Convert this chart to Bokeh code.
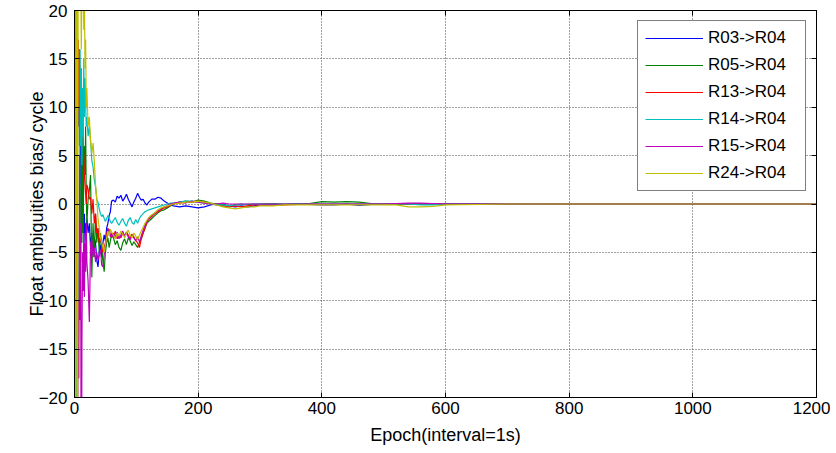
from bokeh.plotting import figure
from bokeh.models import LinearAxis, Legend, LegendItem, FixedTicker, Range1d, CustomJSTickFormatter
from bokeh.embed import file_html
from bokeh.resources import INLINE

epochs = [0,1,2,3,4,5,6,7,8,9,10,11,12,13,14,15,16,17,18,19,20,
          22,24,26,28,30,32,34,36,38,40,42,44,46,48,50,52,54,56,58,60,
          63,66,69,72,75,78,81,84,87,90,93,96,99,102,105,108,111,114,117,120,
          125,130,135,140,145,150,155,160,
          170,180,190,200,210,220,230,240,250,260,270,280,290,300,
          320,340,360,380,400,420,440,460,480,500,520,540,560,580,600,
          650,700,750,800,850,900,950,1000,1050,1100,1150,1200]

r03 = [-60,45,-30,18,10,14,8,16,6,12,2,8,-2,3,-1,-3,-1,-4,-2,-3,-1.5,
       -3,-2,-4.5,-3,-5,-3.5,-4,-5.8,-6.5,-5,-4.2,-5.5,-4,-3.2,-3.8,-2.5,-2,-1.2,-0.8,0.3,
       0.4,0.2,0.8,0.6,0.9,0.3,0.6,1.0,0.5,0.1,-0.3,0.2,0.6,1.1,0.7,0.4,0.5,0.1,-0.1,0.2,
       0.5,0.5,0.7,0.6,0.3,0.1,-0.1,-0.2,
       -0.3,-0.2,-0.3,-0.4,-0.3,-0.1,0.0,-0.1,-0.2,-0.3,-0.2,-0.3,-0.2,-0.1,
       -0.1,-0.05,0.0,-0.05,-0.1,-0.1,0.0,-0.15,-0.05,0.0,0.0,0.05,0.0,0.0,0.05,
       0.0,0.0,0.05,0.0,0.0,0.0,0.0,0.0,0.0,0.0,0.0,0.0]

r05 = [55,-50,-30,-20,-25,-10,-18,-8,-12,2,-6,5,-4,8,-3,4,6,3,8,1,-2,
       0.5,1.4,3,-7.6,-2,-5.5,-1,-4,-2.5,-5,-3,-4.5,-6,-7,-5,-4,-3.5,-4.5,-3.8,-3.2,
       -3.5,-4.2,-3.8,-4.5,-4.8,-4.0,-3.6,-4.2,-3.5,-3.8,-4.3,-3.9,-4.2,-4.5,-4.0,-3.6,-3.0,-2.5,-2.0,-1.8,
       -1.5,-1.2,-0.9,-0.7,-0.6,-0.4,-0.2,0.0,
       0.2,0.3,0.2,0.4,0.3,0.1,0.0,-0.1,-0.2,-0.1,0.0,-0.1,0.0,0.0,
       0.05,0.0,0.05,0.05,0.25,0.2,0.25,0.2,0.05,0.0,0.0,0.0,0.0,0.0,0.0,
       0.0,0.0,0.0,0.0,0.0,0.0,0.0,0.0,0.0,0.0,0.0,0.0]

r13 = [-45,-30,-35,-20,15,8,17,10,16,12,9,14,8,11,6,5,3,2,1,0,2,
       1.5,0.5,0.7,-1,0.5,-2,-1,-3,-2.5,-4,-3.5,-4.2,-5,-4.5,-4,-3.2,-2.5,-2.8,-3.4,-3.0,
       -3.4,-2.8,-3.6,-3.2,-3.5,-3.0,-3.3,-2.9,-3.2,-3.6,-3.1,-3.4,-3.8,-4.0,-4.5,-3.6,-3.0,-2.5,-1.9,-1.6,
       -1.3,-1.0,-0.8,-0.6,-0.4,-0.3,-0.1,0.0,
       0.1,0.2,0.2,0.3,0.2,0.0,-0.1,-0.2,-0.3,-0.2,-0.3,-0.2,-0.1,-0.1,
       -0.1,-0.1,-0.05,0.0,0.0,0.0,0.0,0.0,0.0,0.0,0.0,0.0,0.0,0.0,0.0,
       0.0,0.0,0.0,0.0,0.0,0.0,0.0,0.0,0.0,0.0,0.0,0.0]

r14 = [-50,40,-35,-20,-12,-8,-15,-5,-10,16,6,14,4,12,7,15,9,13,10.7,8,9,
       7,8,6.5,4.5,3.8,2.5,1.8,0.5,0.2,-0.5,-1.0,-1.3,-1.1,-1.5,-1.8,-1.5,-1.2,-1.5,-1.8,-2.0,
       -1.7,-1.4,-1.9,-2.2,-1.8,-1.5,-2.0,-2.3,-1.7,-1.4,-1.9,-2.1,-1.6,-2.0,-1.5,-1.2,-1.0,-0.8,-0.7,-0.6,
       -0.5,-0.4,-0.3,-0.2,-0.1,0.0,0.1,0.1,
       0.2,0.3,0.3,0.2,0.1,0.0,-0.1,-0.1,-0.2,-0.1,-0.1,0.0,0.0,0.0,
       0.0,0.0,0.0,0.0,0.0,0.0,0.0,0.0,0.0,0.0,0.0,0.0,-0.1,-0.1,0.0,
       0.0,0.0,0.0,0.0,0.0,0.0,0.0,0.0,0.0,0.0,0.0,0.0]

r15 = [-40,-35,-25,-30,-20,-25,-10,-18,5,-12,-2,-40,-14.3,-5,-9,-3,-9.6,-4,-7,-2,-6,
       -8,-12.2,-4,-3.7,-5.5,-4.5,-6,-5,-5.8,-5.2,-4.7,-6.3,-6.5,-5.2,-4.3,-3.6,-3.0,-2.6,-3.2,-3.5,
       -3.0,-3.4,-2.9,-3.6,-3.2,-2.8,-3.3,-3.0,-3.4,-3.7,-3.2,-3.5,-3.8,-3.4,-3.9,-3.3,-2.7,-2.2,-1.8,-1.5,
       -1.2,-0.9,-0.7,-0.5,-0.3,-0.2,0.0,0.1,
       0.2,0.1,0.3,0.2,0.1,0.0,0.0,0.1,0.0,0.0,0.0,0.0,0.0,0.0,
       0.0,0.0,0.0,0.0,0.0,0.0,0.0,0.0,0.0,0.0,0.05,0.1,0.1,0.05,0.0,
       0.0,0.0,0.0,0.0,0.0,0.0,0.0,0.0,0.0,0.0,0.0,0.0]

r24 = [60,-55,-40,45,30,-40,35,25,30,20,25,16,22,20,25,18,22,14,17,10,12,
       8,9,6.5,5.2,6.3,4.5,2.0,0.5,-1.5,-2.5,-3.5,-4.0,-4.5,-5.0,-4.2,-3.5,-2.8,-3.3,-2.6,-2.9,
       -3.2,-3.6,-3.0,-3.3,-2.8,-3.1,-3.5,-3.0,-2.7,-3.2,-3.5,-3.0,-3.3,-3.7,-3.2,-2.8,-2.4,-2.0,-1.7,-1.4,
       -1.1,-0.9,-0.6,-0.4,-0.3,-0.2,-0.1,0.0,
       0.1,0.2,0.2,0.3,0.2,0.1,-0.1,-0.3,-0.4,-0.5,-0.4,-0.3,-0.3,-0.2,
       -0.2,-0.1,-0.1,-0.1,-0.1,-0.1,-0.1,-0.1,-0.1,-0.1,-0.1,-0.3,-0.3,-0.25,-0.1,
       -0.05,0.0,0.0,0.0,0.0,0.0,0.0,0.0,0.0,0.0,0.0,0.0]

labels = ["R03->R04", "R05->R04", "R13->R04", "R14->R04", "R15->R04", "R24->R04"]
colors = ["#0000FF", "#008000", "#FF0000", "#00BFBF", "#BF00BF", "#BFBF00"]
series = [r03, r05, r13, r14, r15, r24]

x_ticks = [0, 200, 400, 600, 800, 1000, 1200]
y_ticks = [-20, -15, -10, -5, 0, 5, 10, 15, 20]

FONT = "Liberation Sans"

p = figure(width=830, height=450, output_backend="svg", toolbar_location=None,
           x_range=Range1d(0, 1200), y_range=Range1d(-20, 20),
           min_border_left=74, min_border_right=14, min_border_top=10, min_border_bottom=53)
p.background_fill_color = "white"
p.border_fill_color = "white"
p.outline_line_color = "black"
p.outline_line_width = 1

items = []
for lab, col, ys in zip(labels, colors, series):
    r = p.line(epochs, ys, line_color=col, line_width=1.2)
    items.append(LegendItem(label=lab, renderers=[r]))

for ax in (p.xaxis[0], p.yaxis[0]):
    ax.major_tick_in = 5
    ax.major_tick_out = 0
    ax.minor_tick_in = 0
    ax.minor_tick_out = 0
    ax.axis_line_color = "black"
    ax.major_tick_line_color = "black"
    ax.major_label_text_font = FONT
    ax.major_label_text_font_size = "17px"
    ax.major_label_text_color = "black"
    ax.axis_label_text_font = FONT
    ax.axis_label_text_font_size = "18px"
    ax.axis_label_text_font_style = "normal"
    ax.axis_label_text_color = "black"

p.xaxis.ticker = FixedTicker(ticks=x_ticks)
p.yaxis.ticker = FixedTicker(ticks=y_ticks)
p.xaxis.axis_label = "Epoch(interval=1s)"
p.yaxis.axis_label = "Float ambiguities bias/ cycle"
p.xaxis.major_label_standoff = 4
p.xaxis.axis_label_standoff = 8
p.yaxis.major_label_standoff = 7
p.yaxis.axis_label_standoff = -11

top_ax = LinearAxis(ticker=FixedTicker(ticks=x_ticks), formatter=CustomJSTickFormatter(code="return '';"))
right_ax = LinearAxis(ticker=FixedTicker(ticks=y_ticks), formatter=CustomJSTickFormatter(code="return '';"))
for ax in (top_ax, right_ax):
    ax.major_tick_in = 5
    ax.major_tick_out = 0
    ax.minor_tick_in = 0
    ax.minor_tick_out = 0
    ax.major_label_standoff = 0
    ax.axis_line_color = "black"
    ax.major_tick_line_color = "black"
p.add_layout(top_ax, "above")
p.add_layout(right_ax, "right")

p.xgrid.ticker = FixedTicker(ticks=x_ticks)
p.ygrid.ticker = FixedTicker(ticks=y_ticks)
for g in (p.xgrid[0], p.ygrid[0]):
    g.grid_line_color = "#404040"
    g.grid_line_dash = "1 2"
    g.grid_line_width = 1

legend = Legend(items=items, location="top_right")
legend.label_text_font = FONT
legend.label_text_font_size = "17px"
legend.label_text_color = "black"
legend.glyph_width = 58
legend.glyph_height = 20
legend.label_height = 20
legend.label_width = 90
legend.label_standoff = 5
legend.spacing = 7
legend.padding = 7
legend.margin = 10
legend.border_line_color = "black"
legend.border_line_width = 1
legend.background_fill_color = "white"
legend.background_fill_alpha = 1
p.add_layout(legend)

open("out.html", "w").write(file_html(p, INLINE))
